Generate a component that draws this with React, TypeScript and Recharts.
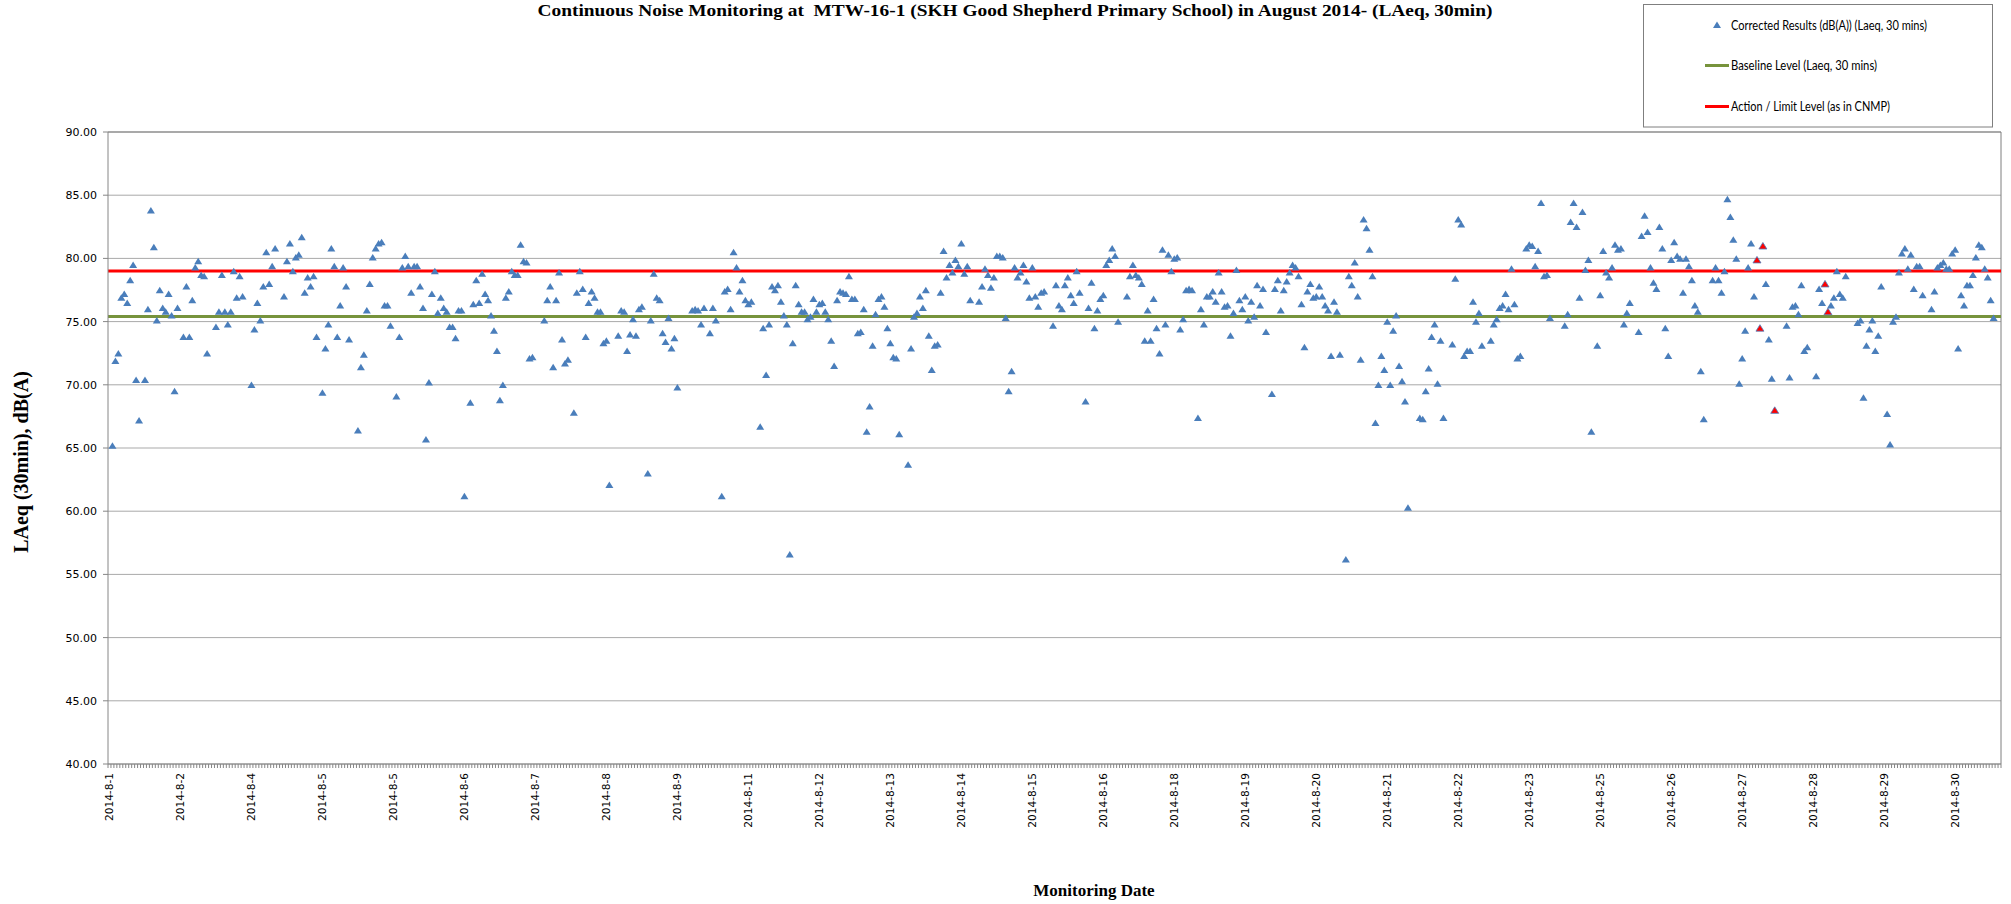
import React from "react";
import { ComposedChart, Scatter, XAxis, YAxis, CartesianGrid, ReferenceLine } from "recharts";

// tick labels shown every 24 half-hour readings
const dateLabels = [
  "2014-8-1", "2014-8-2", "2014-8-4", "2014-8-5", "2014-8-5", "2014-8-6", "2014-8-7",
  "2014-8-8", "2014-8-9", "2014-8-11", "2014-8-12", "2014-8-13", "2014-8-14", "2014-8-15",
  "2014-8-16", "2014-8-18", "2014-8-19", "2014-8-20", "2014-8-21", "2014-8-22", "2014-8-23",
  "2014-8-25", "2014-8-26", "2014-8-27", "2014-8-28", "2014-8-29", "2014-8-30",
];
const labelEvery = 24;

// LAeq 30 min readings, one per half-hour slot (null = no reading shown)
const laeq: (number | null)[] = [
  null, 65.2, 71.9, 72.5, 76.9, 77.2, 76.5, 78.3, 79.5, 70.4, 67.2, null, 70.4, 76.0, 83.8, 80.9, 75.1, 77.5, 76.1, 75.8, 77.2, 75.5, 69.5, 76.1,
  null, 73.8, 77.8, 73.8, 76.7, 79.3, 79.8, 78.7, 78.6, 72.5, null, null, 74.6, 75.8, 78.7, 75.8, 74.8, 75.8, 79.0, 76.9, 78.6, 77.0, null, null,
  70.0, 74.4, 76.5, 75.1, 77.8, 80.5, 78.0, 79.4, 80.8, null, null, 77.0, 79.8, 81.2, 79.0, 80.1, 80.3, 81.7, 77.3, 78.5, 77.8, 78.6, 73.8, null,
  69.4, 72.9, 74.8, 80.8, 79.4, 73.8, 76.3, 79.3, 77.8, 73.6, null, null, 66.4, 71.4, 72.4, 75.9, 78.0, 80.1, 80.8, 81.2, 81.3, 76.3, 76.3, 74.7,
  null, 69.1, 73.8, 79.3, 80.2, 79.4, 77.3, 79.4, 79.4, 77.8, 76.1, 65.7, 70.2, 77.2, 79.0, 75.7, 76.9, 76.1, 75.8, 74.6, 74.6, 73.7, 75.9, 75.9,
  61.2, null, 68.6, 76.4, 78.3, 76.5, 78.8, 77.2, 76.7, 75.5, 74.3, 72.7, 68.8, 70.0, 76.9, 77.4, 79.0, 78.7, 78.7, 81.1, 79.8, 79.7, 72.1, 72.2,
  null, null, null, 75.1, 76.7, 77.8, 71.4, 76.7, 78.9, 73.6, 71.7, 72.0, null, 67.8, 77.3, 79.0, 77.6, 73.8, 76.5, 77.4, 76.9, 75.8, 75.8, 73.3,
  73.5, 62.1, null, null, 73.9, 75.9, 75.8, 72.7, 74.0, 75.2, 73.9, 76.0, 76.2, null, 63.0, 75.1, 78.8, 76.9, 76.7, 74.1, 73.4, 75.3, 72.9, 73.7,
  69.8, null, null, null, null, 75.9, 76.0, 75.9, 74.8, 76.1, null, 74.1, 76.1, 75.1, null, 61.2, 77.4, 77.6, 76.0, 80.5, 79.3, 77.4, 78.3, 76.7,
  76.4, 76.6, null, null, 66.7, 74.5, 70.8, 74.8, 77.8, 77.5, 77.9, 76.6, 75.5, 74.8, 56.6, 73.3, 77.9, 76.4, 75.8, 75.8, 75.2, 75.4, 76.8, 75.8,
  76.4, 76.5, 75.8, 75.2, 73.5, 71.5, 76.7, 77.4, 77.3, 77.2, 78.6, 76.8, 76.8, 74.1, 74.2, 76.0, 66.3, 68.3, 73.1, 75.6, 76.8, 77.0, 76.2, 74.5,
  73.3, 72.2, 72.1, 66.1, null, null, 63.7, 72.9, 75.4, 75.7, 77.0, 76.1, 77.5, 73.9, 71.2, 73.1, 73.2, 77.3, 80.6, 78.5, 79.5, 78.9, 79.9, 79.4,
  81.2, 78.8, 79.4, 76.7, null, null, 76.6, 77.8, 79.2, 78.7, 77.7, 78.5, 80.2, 80.2, 80.1, 75.3, 69.5, 71.1, 79.3, 78.5, 78.9, 79.5, 78.2, 76.9,
  79.3, 77.0, 76.2, 77.3, 77.4, null, null, 74.7, 77.9, 76.3, 76.0, 77.9, 78.5, 77.1, 76.5, 79.0, 77.3, null, 68.7, 76.1, 78.1, 74.5, 75.9, 76.8,
  77.1, 79.5, 79.9, 80.8, 80.2, 75.0, null, null, 77.0, 78.6, 79.5, 78.7, 78.5, 78.0, 73.5, 75.9, 73.5, 76.8, 74.5, 72.5, 80.7, 74.8, 80.3, 79.0,
  80.0, 80.1, 74.4, 75.2, 77.5, 77.6, 77.5, null, 67.4, 76.0, 74.8, 77.0, 77.0, 77.4, 76.6, 78.9, 77.4, 76.2, 76.3, 73.9, 75.7, 79.1, 76.7, 76.0,
  77.0, 75.1, 76.6, 75.4, 77.9, 76.3, 77.6, 74.2, null, 69.3, 77.6, 78.3, 75.9, 77.5, 78.2, 78.9, 79.5, 79.3, 78.6, 76.4, 73.0, 77.4, 78.0, 76.9,
  77.0, 77.8, 77.0, 76.3, 75.9, 72.3, 76.6, 75.8, 72.4, null, 56.2, 78.6, 77.9, 79.7, 77.0, 72.0, 83.1, 82.4, 80.7, 78.6, 67.0, 70.0, 72.3, 71.2,
  75.0, 70.0, 74.3, 75.5, 71.5, 70.3, 68.7, 60.3, null, null, null, 67.4, 67.3, 69.5, 71.3, 73.8, 74.8, 70.1, 73.5, 67.4, null, null, 73.2, 78.4,
  83.1, 82.7, 72.3, 72.7, 72.7, 76.6, 75.0, 75.7, 73.1, null, null, 73.5, 74.8, 75.2, 76.1, 76.3, 77.2, 76.0, 79.2, 76.4, 72.1, 72.3, null, 80.8,
  81.1, 81.0, 79.4, 80.6, 84.4, 78.6, 78.7, 75.3, null, null, null, null, 74.7, 75.6, 82.9, 84.4, 82.5, 76.9, 83.7, 79.1, 79.9, 66.3, null, 73.1,
  77.1, 80.6, 78.9, 78.5, 79.3, 81.1, 80.7, 80.8, 74.8, 75.7, 76.5, null, null, 74.2, 81.8, 83.4, 82.1, 79.3, 78.1, 77.6, 82.5, 80.8, 74.5, 72.3,
  79.9, 81.3, 80.2, 80.0, 77.3, 80.0, 79.4, 78.3, 76.3, 75.8, 71.1, 67.3, null, null, 78.3, 79.3, 78.3, 77.3, 79.0, 84.7, 83.3, 81.5, 80.0, 70.1,
  72.1, 74.3, 79.3, 81.2, 77.0, 79.9, 74.5, 81.0, 78.0, 73.6, 70.5, 68.0, null, null, null, 74.7, 70.6, 76.2, 76.3, 75.6, 77.9, 72.7, 73.0, null,
  null, 70.7, 77.6, 76.5, 78.0, 75.8, 76.3, 76.9, 79.0, 77.2, 76.9, 78.6, null, null, null, 74.9, 75.1, 69.0, 73.1, 74.4, 75.1, 72.7, 73.9, 77.8,
  null, 67.7, 65.3, 75.0, 75.4, 78.9, 80.4, 80.8, 79.2, 80.3, 77.6, 79.4, 79.4, 77.1, null, null, 76.0, 77.4, 79.3, 79.5, 79.7, 79.2, 79.2, 80.4,
  80.7, 72.9, 77.1, 76.3, 77.9, 77.9, 78.7, 80.1, 81.1, 80.9, 79.2, 78.5, 76.7, 75.3, null, null,
];

// readings drawn with a red marker
const redMarked = [557, 558, 559, 563, 580, 581];

const baselineLevel = 75.4;
const limitLevel = 79;
const yTicks = [40, 45, 50, 55, 60, 65, 70, 75, 80, 85, 90];

const W = 2011;
const H = 904;
const plotLeft = 108;
const plotTop = 132;
const plotRight = 2001;
const plotBottom = 764;

const blue = "#4a7ebb";
const green = "#77933c";
const red = "#ff0000";
const axisGray = "#868686";

const points = laeq.flatMap((v, i) => (v === null ? [] : [{ slot: i, level: v, red: redMarked.includes(i) }]));

const xTicks = [
  ...Array.from({ length: laeq.length + 1 }, (_, i) => i - 0.5),
  ...dateLabels.map((_, j) => j * labelEvery),
];

function XTick({ x, payload }: any) {
  const v = payload.value as number;
  if (Number.isInteger(v)) {
    return (
      <text
        transform={`translate(${x},${plotBottom + 9}) rotate(-90)`}
        textAnchor="end"
        dominantBaseline="central"
        fontFamily="DejaVu Sans"
        fontSize={10.6}
        fill="#000"
      >
        {dateLabels[v / labelEvery]}
      </text>
    );
  }
  return <line x1={x} x2={x} y1={plotBottom} y2={plotBottom + 4} stroke={axisGray} />;
}

function Triangle(props: any) {
  const { cx, cy, payload } = props;
  if (cx == null || cy == null) return null;
  const w = 8;
  const h = 6.5;
  return (
    <path
      d={`M${cx},${cy - h / 2}L${cx + w / 2},${cy + h / 2}L${cx - w / 2},${cy + h / 2}Z`}
      fill={payload.red ? red : blue}
      stroke={payload.red ? blue : "none"}
      strokeWidth={0.8}
    />
  );
}

export default function App() {
  const legendFont = { fontFamily: "Lato", fontSize: 12.5, fill: "#000", lengthAdjust: "spacingAndGlyphs" as const };
  return (
    <div style={{ position: "absolute", left: 0, top: 0, width: W, height: H, background: "#fff" }}>
      <ComposedChart
        width={W}
        height={H}
        data={points}
        margin={{ top: plotTop, right: W - plotRight, bottom: H - plotBottom - 60, left: 0 }}
      >
        <CartesianGrid vertical={false} stroke="#a9a9a9" />
        <XAxis
          type="number"
          dataKey="slot"
          domain={[-0.5, laeq.length - 0.5]}
          ticks={xTicks}
          interval={0}
          tick={<XTick />}
          tickLine={false}
          height={60}
          stroke={axisGray}
          allowDataOverflow
        />
        <YAxis
          type="number"
          dataKey="level"
          domain={[40, 90]}
          ticks={yTicks}
          interval={0}
          width={plotLeft}
          tickFormatter={(v: number) => v.toFixed(2)}
          tick={{ fontFamily: "DejaVu Sans", fontSize: 11, fill: "#000" }}
          tickSize={5}
          tickMargin={6}
          stroke={axisGray}
          allowDataOverflow
        />
        <Scatter
          name="Corrected Results (dB(A)) (Laeq, 30 mins)"
          dataKey="level"
          fill={blue}
          shape={<Triangle />}
          isAnimationActive={false}
        />
        <ReferenceLine y={90} stroke="#7f7f7f" />
        <ReferenceLine x={laeq.length - 0.5} stroke="#7f7f7f" />
        <ReferenceLine y={baselineLevel} stroke={green} strokeWidth={3} />
        <ReferenceLine y={limitLevel} stroke={red} strokeWidth={3} />
      </ComposedChart>

      <svg width={W} height={H} style={{ position: "absolute", left: 0, top: 0, pointerEvents: "none" }}>
        <text
          x={1015}
          y={16}
          textAnchor="middle"
          fontFamily="Liberation Serif"
          fontWeight="bold"
          fontSize={17}
          fill="#000"
          textLength={955}
          lengthAdjust="spacingAndGlyphs"
        >
          Continuous Noise Monitoring at {"\u00a0"}MTW-16-1 (SKH Good Shepherd Primary School) in August 2014- (LAeq, 30min)
        </text>
        <text
          transform="translate(21,462) rotate(-90)"
          textAnchor="middle"
          dominantBaseline="central"
          fontFamily="Liberation Serif"
          fontWeight="bold"
          fontSize={20}
          fill="#000"
        >
          LAeq (30min), dB(A)
        </text>
        <text x={1094} y={890} textAnchor="middle" dominantBaseline="central" fontFamily="Liberation Serif" fontWeight="bold" fontSize={17} fill="#000">
          Monitoring Date
        </text>

        <rect x={1643.5} y={4.5} width={349} height={122.5} fill="#fff" stroke="#7f7f7f" />
        <path d="M1717,21.5L1721,28L1713,28Z" fill={blue} />
        <text x={1731} y={25} dominantBaseline="central" textLength={196} {...legendFont}>
          Corrected Results (dB(A)) (Laeq, 30 mins)
        </text>
        <line x1={1705} x2={1729} y1={65.5} y2={65.5} stroke={green} strokeWidth={3} />
        <text x={1731} y={65.5} dominantBaseline="central" textLength={146} {...legendFont}>
          Baseline Level (Laeq, 30 mins)
        </text>
        <line x1={1705} x2={1729} y1={106.5} y2={106.5} stroke={red} strokeWidth={3} />
        <text x={1731} y={106.5} dominantBaseline="central" textLength={159} {...legendFont}>
          Action / Limit Level (as in CNMP)
        </text>
      </svg>
    </div>
  );
}
